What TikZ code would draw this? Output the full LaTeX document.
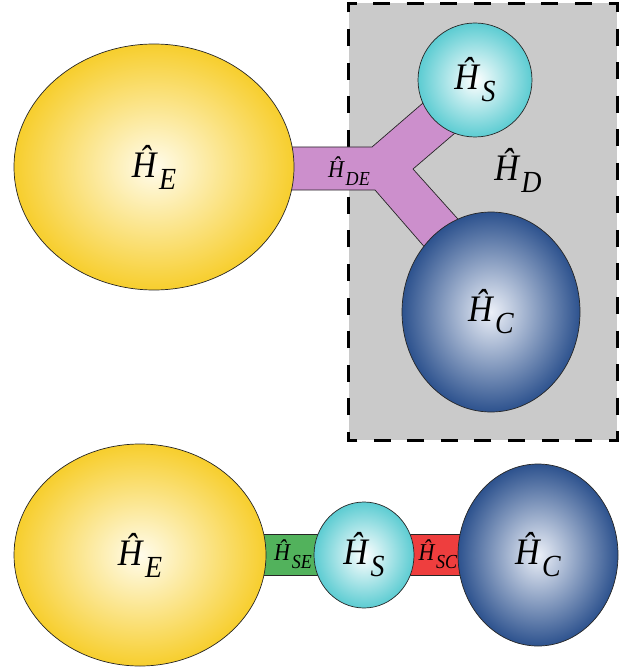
\documentclass[tikz,border=0pt]{standalone}
\usepackage{fontspec}
\setmainfont{Liberation Serif}
\usepackage{graphicx}
\usetikzlibrary{shapes.geometric}
\pgfdeclarelayer{bg}
\pgfdeclarelayer{mid}
\pgfsetlayers{bg,mid,main}
\definecolor{gold}{RGB}{247,206,45}
\definecolor{goldin}{RGB}{255,252,236}
\definecolor{cyanout}{RGB}{92,204,210}
\definecolor{blueout}{RGB}{45,82,142}
\definecolor{bluein}{RGB}{236,240,248}
\definecolor{pinkbar}{RGB}{204,143,204}
\definecolor{greenbar}{RGB}{82,178,92}
\definecolor{redbar}{RGB}{238,62,62}
\definecolor{boxgray}{RGB}{202,202,202}
\newcommand{\hop}[1]{\scalebox{1}[1.1]{\textit{Ĥ}\kern0.03em\raisebox{-0.32em}{\scalebox{0.82}{\textit{#1}}}}}
\begin{document}
\begin{tikzpicture}[x=1pt,y=-1pt,
  outl/.style={draw=black!85,line width=0.7pt},
  blob/.style={ellipse,outl,inner sep=0pt,font=\fontsize{34}{36}\selectfont},
  yel/.style={blob,shading=radial,inner color=goldin,outer color=gold},
  cya/.style={blob,shading=radial,inner color=white,outer color=cyanout},
  blu/.style={blob,shading=radial,inner color=bluein,outer color=blueout},
  biglab/.style={inner sep=0pt,font=\fontsize{34}{36}\selectfont},
  smalllab/.style={inner sep=0pt,font=\fontsize{22}{24}\selectfont},
  band/.style={double=#1,double distance=40pt,outl}]
\useasboundingbox (0,0) rectangle (637,671);
% top row
\node[yel,minimum width=280pt,minimum height=246pt] (E1) at (154,167) {\hop{E}};
\node[cya,minimum width=114pt,minimum height=114pt] (S1) at (475,80) {\hop{S}};
\node[blu,minimum width=178pt,minimum height=200pt] (C1) at (491,312) {\hop{C}};
\node[biglab] (D) at (518,170) {\hop{D}};
\node[smalllab] (DE) at (349,171) {\hop{DE}};
% bottom row
\node[yel,minimum width=252pt,minimum height=222pt] (E2) at (140,555) {\hop{E}};
\node[cya,minimum width=100pt,minimum height=106pt] (S2) at (364,555) {\hop{S}};
\node[blu,minimum width=160pt,minimum height=182pt] (C2) at (538,555) {\hop{C}};
\node[smalllab] (SE) at (293,554) {\hop{SE}};
\node[smalllab] (SC) at (438,554) {\hop{SC}};
\begin{pgfonlayer}{bg}
  \fill[boxgray] (348.5,3.5) rectangle (617,440);
  \draw[line width=3pt,dash pattern=on 17pt off 16.56pt,dash phase=8.5pt]
    (482.75,3.5) -- (617,3.5) -- (617,440) -- (348.5,440) -- (348.5,3.5) -- cycle;
\end{pgfonlayer}
\begin{pgfonlayer}{mid}
  \draw[outl,fill=pinkbar] (E1.center |- 0,147) -- (372,147) -- (448.5,81) -- (476,115)
    -- (413,169) -- (492,257) -- (461,289) -- (375,190) -- (E1.center |- 0,190) -- cycle;
  \draw[band=greenbar] (E2.center) -- (S2.center);
  \draw[band=redbar] (S2.center) -- (C2.center);
\end{pgfonlayer}
\end{tikzpicture}
\end{document}
